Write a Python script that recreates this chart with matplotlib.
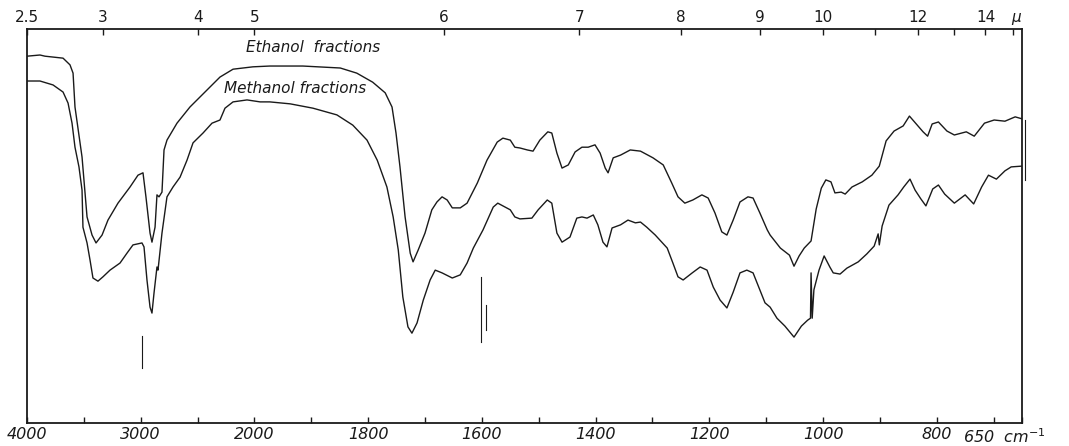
import numpy as np
import matplotlib
matplotlib.use("Agg")
import matplotlib.pyplot as plt

# ---------------- data (wavenumber cm^-1, transmittance %) ----------------
ethanol_wn = [4000, 3886, 3842, 3683, 3622, 3595, 3578, 3516, 3472, 3428, 3393, 3340, 3288,
              3200, 3094, 3024, 2980, 2954, 2918, 2901, 2874, 2857, 2839, 2813, 2795, 2769,
              2681, 2567, 2417, 2303, 2188, 2013, 1973, 1915, 1849, 1820, 1792, 1770, 1758,
              1751, 1744, 1735, 1726, 1721, 1712, 1700, 1688, 1679, 1670, 1661, 1652, 1638,
              1626, 1608, 1591, 1573, 1563, 1550, 1542, 1533, 1520, 1510, 1498, 1484, 1477,
              1468, 1459, 1448, 1436, 1424, 1413, 1401, 1392, 1383, 1378, 1369, 1356, 1339,
              1321, 1299, 1281, 1266, 1255, 1243, 1229, 1213, 1202, 1190, 1178, 1169, 1158,
              1146, 1132, 1123, 1111, 1098, 1093, 1075, 1059, 1051, 1042, 1033, 1021, 1012,
              1003, 995, 986, 979, 968, 961, 949, 931, 914, 901, 889, 875, 859, 848, 836,
              824, 816, 808, 797, 782, 769, 748, 734, 716, 699, 680, 662, 650]
ethanol_t = [93.1, 93.4, 93.1, 92.6, 90.9, 88.8, 80.2, 67.5, 52.3, 47.7, 45.7, 47.7, 51.5,
             55.8, 59.9, 62.9, 63.5, 57.4, 48.2, 45.9, 49.7, 57.9, 57.4, 58.6, 69.3, 71.8,
             76.1, 80.2, 84.5, 87.8, 89.8, 90.4, 90.6, 90.6, 90.1, 88.8, 86.5, 83.8, 80.2,
             73.6, 65.0, 52.3, 43.1, 40.9, 43.9, 48.2, 54.1, 56.1, 57.4, 56.6, 54.6, 54.6,
             55.8, 60.9, 66.7, 71.3, 72.3, 71.8, 70.0, 69.8, 69.3, 69.0, 71.8, 73.9, 73.6,
             68.5, 64.7, 65.5, 68.8, 70.0, 70.0, 70.6, 68.5, 64.7, 63.5, 67.3, 68.0, 69.3,
             69.0, 67.3, 65.5, 60.9, 57.4, 55.8, 56.6, 57.9, 57.1, 53.3, 48.5, 47.7, 51.5,
             56.1, 57.4, 57.1, 53.3, 49.0, 47.7, 44.4, 42.6, 39.8, 42.4, 44.4, 46.2, 54.3,
             59.6, 61.7, 61.2, 58.4, 58.6, 58.1, 59.9, 61.2, 62.9, 65.2, 71.6, 74.1, 75.4,
             77.9, 75.9, 73.9, 72.8, 75.9, 76.4, 74.1, 73.1, 73.9, 72.8, 76.1, 76.9, 76.6,
             77.7, 77.2]

methanol_wn = [4000, 3886, 3771, 3683, 3639, 3604, 3578, 3543, 3516, 3508, 3472, 3446, 3420,
               3376, 3332, 3270, 3182, 3121, 3068, 2989, 2971, 2945, 2918, 2901, 2883, 2857,
               2848, 2813, 2769, 2716, 2654, 2593, 2540, 2452, 2373, 2303, 2259, 2188, 2065,
               1990, 1973, 1937, 1897, 1855, 1827, 1802, 1784, 1767, 1756, 1747, 1739, 1730,
               1723, 1714, 1703, 1691, 1682, 1670, 1652, 1638, 1626, 1615, 1598, 1580, 1572,
               1559, 1550, 1542, 1533, 1512, 1501, 1485, 1477, 1468, 1459, 1445, 1433, 1424,
               1415, 1404, 1396, 1387, 1380, 1371, 1356, 1343, 1330, 1321, 1310, 1295, 1274,
               1264, 1255, 1246, 1230, 1216, 1204, 1193, 1181, 1169, 1158, 1146, 1134, 1123,
               1111, 1102, 1093, 1081, 1067, 1051, 1038, 1027, 1022, 1021, 1019, 1016, 1007,
               998, 988, 982, 970, 958, 938, 923, 910, 903, 901, 896, 884, 868, 858, 847,
               838, 828, 819, 807, 797, 786, 769, 750, 735, 721, 709, 695, 680, 669, 650]
methanol_t = [86.8, 86.8, 85.8, 84.0, 81.2, 76.1, 70.0, 65.0, 59.1, 49.7, 45.7, 41.4, 36.8,
              36.0, 37.1, 38.8, 40.6, 43.1, 45.2, 45.7, 44.7, 36.3, 29.4, 27.9, 33.0, 39.6,
              38.8, 48.2, 57.4, 59.9, 62.4, 66.7, 71.1, 73.6, 76.1, 76.9, 79.9, 81.5, 82.0,
              81.5, 81.5, 81.0, 79.9, 78.2, 75.6, 71.8, 66.7, 59.9, 52.3, 43.9, 32.0, 24.4,
              22.8, 25.4, 31.2, 36.3, 38.8, 38.1, 36.8, 37.6, 40.6, 44.4, 49.0, 54.8, 55.8,
              54.8, 54.1, 52.3, 51.8, 52.0, 54.1, 56.6, 55.8, 48.2, 45.9, 47.2, 52.0, 52.3,
              52.0, 52.8, 50.3, 45.9, 44.7, 49.5, 50.3, 51.5, 50.8, 51.0, 49.7, 47.7, 44.4,
              40.6, 37.1, 36.3, 38.1, 39.6, 38.8, 34.5, 31.2, 29.2, 33.2, 38.1, 38.8, 38.1,
              33.8, 30.5, 29.4, 26.6, 24.6, 21.8, 24.6, 26.1, 26.6, 38.1, 26.6, 33.8, 38.8,
              42.4, 39.6, 38.1, 37.8, 39.3, 40.9, 42.9, 44.9, 48.0, 45.2, 50.0, 55.3, 57.9,
              59.9, 61.9, 59.1, 56.9, 55.1, 59.4, 60.4, 58.1, 55.8, 57.9, 55.6, 59.9, 62.9,
              61.9, 64.0, 65.0, 65.2]

# pen / calibration marks: (wavenumber, T top, T bottom)
mark_wn = [2989, 1601, 1593, 645]
mark_t_top = [22.1, 37.1, 29.9, 77.0]
mark_t_bottom = [14.0, 20.6, 23.6, 61.6]

bottom_ticks = [4000, 3500, 3000, 2500, 2000, 1900, 1800, 1700, 1600, 1500, 1400, 1300,
                1200, 1100, 1000, 900, 800, 700, 650]
bottom_labels = ["4000", "", "3000", "", "2000", "", "1800", "", "1600", "", "1400", "",
                 "1200", "", "1000", "", "800", "", ""]
end_label = "650  cm$^{-1}$"
top_microns = [2.5, 3, 4, 5, 6, 7, 8, 9, 10, 11, 12, 13, 14, 15]
top_labels = ["2.5", "3", "4", "5", "6", "7", "8", "9", "10", "", "12", "", "14", ""]


# ---------------- grating-change scale (5x compression above 2000 cm^-1) ----------------
def fwd(w):
    w = np.asarray(w, dtype=float)
    return np.where(w >= 2000, w / 500.0, (w - 1600.0) / 100.0)


def inv(u):
    u = np.asarray(u, dtype=float)
    return np.where(u >= 4, u * 500.0, u * 100.0 + 1600.0)


plt.rcParams["font.family"] = ["DejaVu Sans"]
fig = plt.figure(figsize=(10.69, 4.46), dpi=100)
ax = fig.add_axes([27 / 1069, 1 - 423 / 446, 995 / 1069, 394 / 446])
ax.set_xscale("function", functions=(fwd, inv))
ax.set_xlim(4000, 650)
ax.set_ylim(0, 100)

ink = "#1a1a1a"
ax.plot(ethanol_wn, ethanol_t, color=ink, lw=1.0)
ax.plot(methanol_wn, methanol_t, color=ink, lw=1.0)
for w, t0, t1 in zip(mark_wn, mark_t_top, mark_t_bottom):
    ax.plot([w, w], [t0, t1], color=ink, lw=0.8, clip_on=False)

ax.text(1897, 95.4, "Ethanol  fractions", ha="center", va="center",
        fontsize=11, style="italic", color=ink)
ax.text(1929, 85.0, "Methanol fractions", ha="center", va="center",
        fontsize=11, style="italic", color=ink)

for s in ax.spines.values():
    s.set_linewidth(1.3)
    s.set_color(ink)

ax.set_yticks([])
ax.set_xticks(bottom_ticks)
ax.set_xticklabels(bottom_labels, fontsize=11.5, style="italic", color=ink)
ax.xaxis.set_minor_locator(matplotlib.ticker.NullLocator())
ax.tick_params(axis="x", direction="in", length=4, width=1.0, pad=3, colors=ink)
ax.annotate(end_label, xy=(650, 0.0), xycoords=("data", "axes fraction"),
            xytext=(-13, -3), textcoords="offset points", ha="center", va="top",
            fontsize=11.5, style="italic", color=ink)

ax2 = ax.twiny()
ax2.set_xscale("function", functions=(fwd, inv))
ax2.set_xlim(4000, 650)
ax2.set_xticks([10000.0 / m for m in top_microns])
ax2.set_xticklabels(top_labels, fontsize=11, color=ink)
ax2.xaxis.set_minor_locator(matplotlib.ticker.NullLocator())
ax2.tick_params(axis="x", direction="in", length=4, width=1.0, pad=3, colors=ink)
for s in ax2.spines.values():
    s.set_visible(False)
ax2.annotate("μ", xy=(650, 1.0), xycoords=("data", "axes fraction"),
             xytext=(-4, 3), textcoords="offset points", ha="center", va="bottom",
             fontsize=11, style="italic", color=ink)

fig.savefig("out.png", dpi=100)
